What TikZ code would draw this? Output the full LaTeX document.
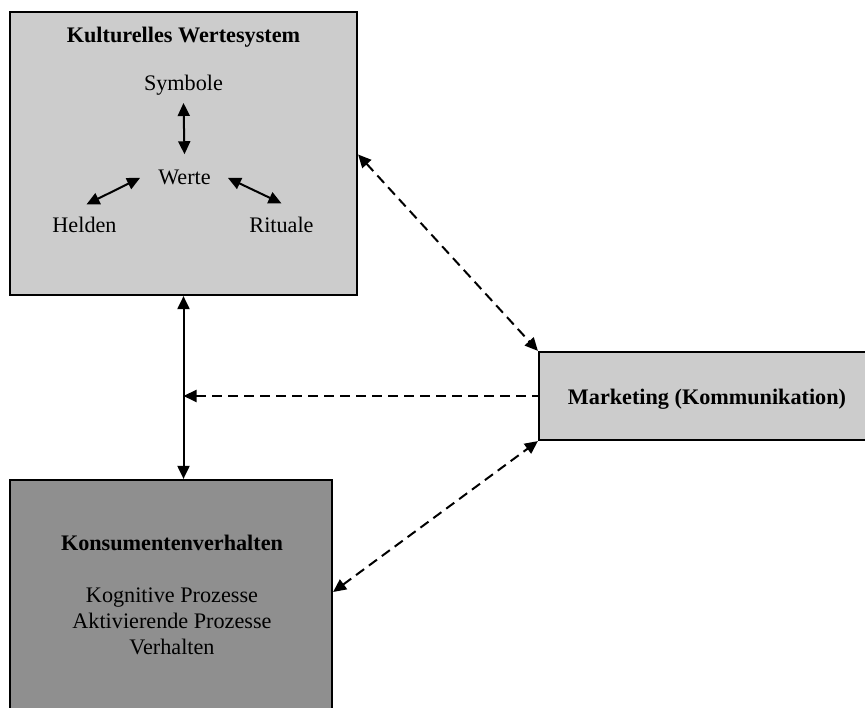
\documentclass[tikz,border=0pt]{standalone}
\usepackage{fontspec}
\setmainfont{Liberation Serif}
\usetikzlibrary{arrows.meta}

\definecolor{boxlight}{HTML}{CCCCCC}
\definecolor{boxdark}{HTML}{8F8F8F}

\begin{document}
\begin{tikzpicture}[x=1pt,y=1pt,
  font=\fontsize{22.2}{26}\selectfont,
  panel/.style={draw=black, line width=2.2pt, inner sep=0pt},
  label/.style={inner sep=0pt, anchor=base},
  heading/.style={label, font=\fontsize{22.2}{26}\selectfont\bfseries},
  link/.style={line width=2pt, {Triangle[length=13pt,width=12pt]}-{Triangle[length=13pt,width=12pt]}},
  dlink/.style={link, dash pattern=on 10pt off 6pt},
]
\useasboundingbox (0,0) rectangle (865,708);
\clip (0,0) rectangle (865,708);

% boxes
\node[panel, fill=boxlight, minimum width=347pt, minimum height=283pt] (kws) at (183.5,554.5) {};
\node[panel, fill=boxdark, minimum width=322pt, minimum height=240pt] (kv) at (171,108) {};
\node[panel, fill=boxlight, minimum width=335pt, minimum height=88pt] (mk) at (706.5,312) {};

% cultural value system
\node[heading] (kwst) at (183.5,665) {Kulturelles Wertesystem};
\node[label] (sym) at (183.5,617) {Symbole};
\node[label] (wer) at (184.5,523) {Werte};
\node[label] (hel) at (84.5,475) {Helden};
\node[label] (rit) at (281.5,475) {Rituale};

\draw[link] ([yshift=-7pt]sym.south) -- ([yshift=16pt]wer.north);
\draw[link] ([shift={(2pt,13pt)}]hel.north) -- ([xshift=-18pt]wer.west);
\draw[link] ([xshift=17pt]wer.east) -- ([shift={(0pt,14pt)}]rit.north);

% consumer behaviour
\node[heading] (kvt) at (172,157) {Konsumentenverhalten};
\node[label] (kv1) at (172,105) {Kognitive Prozesse};
\node[label] (kv2) at (172,79) {Aktivierende Prozesse};
\node[label] (kv3) at (172,53) {Verhalten};

% marketing
\node[heading] (mkt) at (707,303) {Marketing (Kommunikation)};

% connectors
\coordinate (axis) at (kws.south |- mk.west);
\draw[link] (kws.south) -- (kws.south |- kv.north);
\draw[dlink, {Triangle[length=13pt,width=12pt]}-] (axis) -- (mk.west);
\draw[dlink] ([yshift=-1pt]kws.east) -- (mk.north west);
\draw[dlink] ([yshift=8pt]kv.east) -- (mk.south west);
\end{tikzpicture}
\end{document}
